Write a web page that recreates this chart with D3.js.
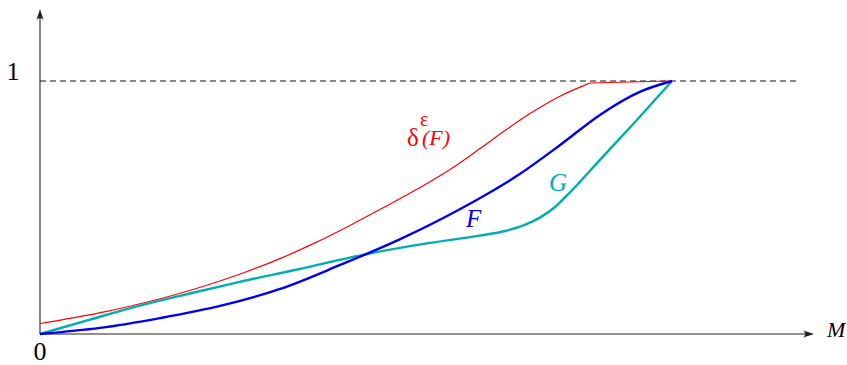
<!DOCTYPE html>
<html>
<head>
<meta charset="utf-8">
<script src="https://cdn.jsdelivr.net/npm/d3@7"></script>
<style>
  html, body { margin: 0; padding: 0; background: #fff; }
  svg { display: block; }
  text { font-family: "Liberation Serif", "Times New Roman", Times, serif; }
</style>
</head>
<body>
<svg id="chart" width="847" height="365"></svg>
<script>
// ---- data (x in units of M, y as fraction of 1) ----
const fX = [0, 0.095, 0.190, 0.285, 0.380, 0.475, 0.570, 0.665, 0.759, 0.823, 0.886, 0.949, 1];
const fY = [0, 0.024, 0.063, 0.111, 0.178, 0.273, 0.375, 0.494, 0.632, 0.747, 0.866, 0.957, 1];

const gX = [0, 0.079, 0.158, 0.237, 0.316, 0.411, 0.517, 0.617, 0.696, 0.736, 0.767, 0.791, 0.815, 0.839, 0.886, 0.943, 1];
const gY = [0, 0.057, 0.112, 0.160, 0.206, 0.257, 0.316, 0.360, 0.389, 0.407, 0.431, 0.460, 0.502, 0.561, 0.688, 0.842, 1];

const dX = [0, 0.0522, 0.106, 0.1582, 0.2136, 0.269, 0.3244, 0.3797, 0.4351, 0.4905, 0.5459, 0.6013, 0.6487, 0.6962, 0.7358, 0.7753, 0.8228, 0.8592];
const dY = [0.0415, 0.0636, 0.0893, 0.1194, 0.1553, 0.1968, 0.2439, 0.2978, 0.3601, 0.4292, 0.5026, 0.5787, 0.6498, 0.7328, 0.8040, 0.8711, 0.9399, 0.9806];
// straight tail of δ^ε(F) up to the corner
const dTailX = [0.8592, 0.870, 0.997];
const dTailY = [0.9806, 0.992, 1];

const yTicks = [0, 1];
const xAxisEnd = 1.225, yAxisEnd = 1.285, dashEnd = 1.198;

// ---- scales ----
const svg = d3.select("#chart");
const x = d3.scaleLinear().domain([0, 1]).range([40, 672]);
const y = d3.scaleLinear().domain([0, 1]).range([334, 81]);

const zip = (a, b) => a.map((v, i) => [v, b[i]]);
const smooth = d3.line().x(d => x(d[0])).y(d => y(d[1])).curve(d3.curveMonotoneX);
const straight = d3.line().x(d => x(d[0])).y(d => y(d[1]));

// dashed line at y=1
svg.append("line")
  .attr("x1", x(0)).attr("x2", x(dashEnd))
  .attr("y1", y(1)).attr("y2", y(1))
  .attr("stroke", "#111").attr("stroke-width", 1)
  .attr("stroke-dasharray", "6,4");

// axes
const axisColor = "#222";
svg.append("line").attr("x1", x(0)).attr("x2", x(xAxisEnd) - 4)
  .attr("y1", y(0)).attr("y2", y(0)).attr("stroke", axisColor).attr("stroke-width", 1.1);
svg.append("line").attr("x1", x(0)).attr("x2", x(0))
  .attr("y1", y(0)).attr("y2", y(yAxisEnd) + 4).attr("stroke", axisColor).attr("stroke-width", 1.1);

// arrowheads
const tx = x(xAxisEnd), ty = y(0);
svg.append("path")
  .attr("d", `M${tx},${ty} L${tx - 11},${ty - 3.5} Q${tx - 7},${ty} ${tx - 11},${ty + 3.5} Z`)
  .attr("fill", axisColor);
const ux = x(0), uy = y(yAxisEnd);
svg.append("path")
  .attr("d", `M${ux},${uy} L${ux - 3.5},${uy + 11} Q${ux},${uy + 7} ${ux + 3.5},${uy + 11} Z`)
  .attr("fill", axisColor);

// tick labels
svg.append("text").attr("x", 13).attr("y", y(yTicks[1]) - 1)
  .attr("text-anchor", "middle").attr("font-size", 26).text(String(yTicks[1]));
svg.append("text").attr("x", x(0)).attr("y", 360)
  .attr("text-anchor", "middle").attr("font-size", 26).text(String(yTicks[0]));
svg.append("text").attr("x", 827).attr("y", 337)
  .attr("font-size", 22).attr("font-style", "italic").text("M");

// curves
svg.append("path").datum(zip(dX, dY)).attr("d", smooth)
  .attr("fill", "none").attr("stroke", "#ff0000").attr("stroke-width", 1.2);
svg.append("path").datum(zip(dTailX, dTailY)).attr("d", straight)
  .attr("fill", "none").attr("stroke", "#ff0000").attr("stroke-width", 1.2);
svg.append("path").datum(zip(gX, gY)).attr("d", smooth)
  .attr("fill", "none").attr("stroke", "#00aeae").attr("stroke-width", 2.4);
svg.append("path").datum(zip(fX, fY)).attr("d", smooth)
  .attr("fill", "none").attr("stroke", "#0000f0").attr("stroke-width", 2.4);

// curve labels
svg.append("text").attr("x", 466).attr("y", 227)
  .attr("font-size", 25).attr("font-style", "italic").attr("fill", "#0000f0").text("F");
svg.append("text").attr("x", 549).attr("y", 191)
  .attr("font-size", 25).attr("font-style", "italic").attr("fill", "#00aeae").text("G");

const dl = svg.append("text").attr("fill", "#ff0000");
dl.append("tspan").attr("x", 407).attr("y", 146).attr("font-size", 25).text("δ");
dl.append("tspan").attr("x", 420).attr("y", 126).attr("font-size", 20).text("ε");
dl.append("tspan").attr("x", 422).attr("y", 145).attr("font-size", 22).attr("font-style", "italic").text("(F)");
</script>
</body>
</html>
